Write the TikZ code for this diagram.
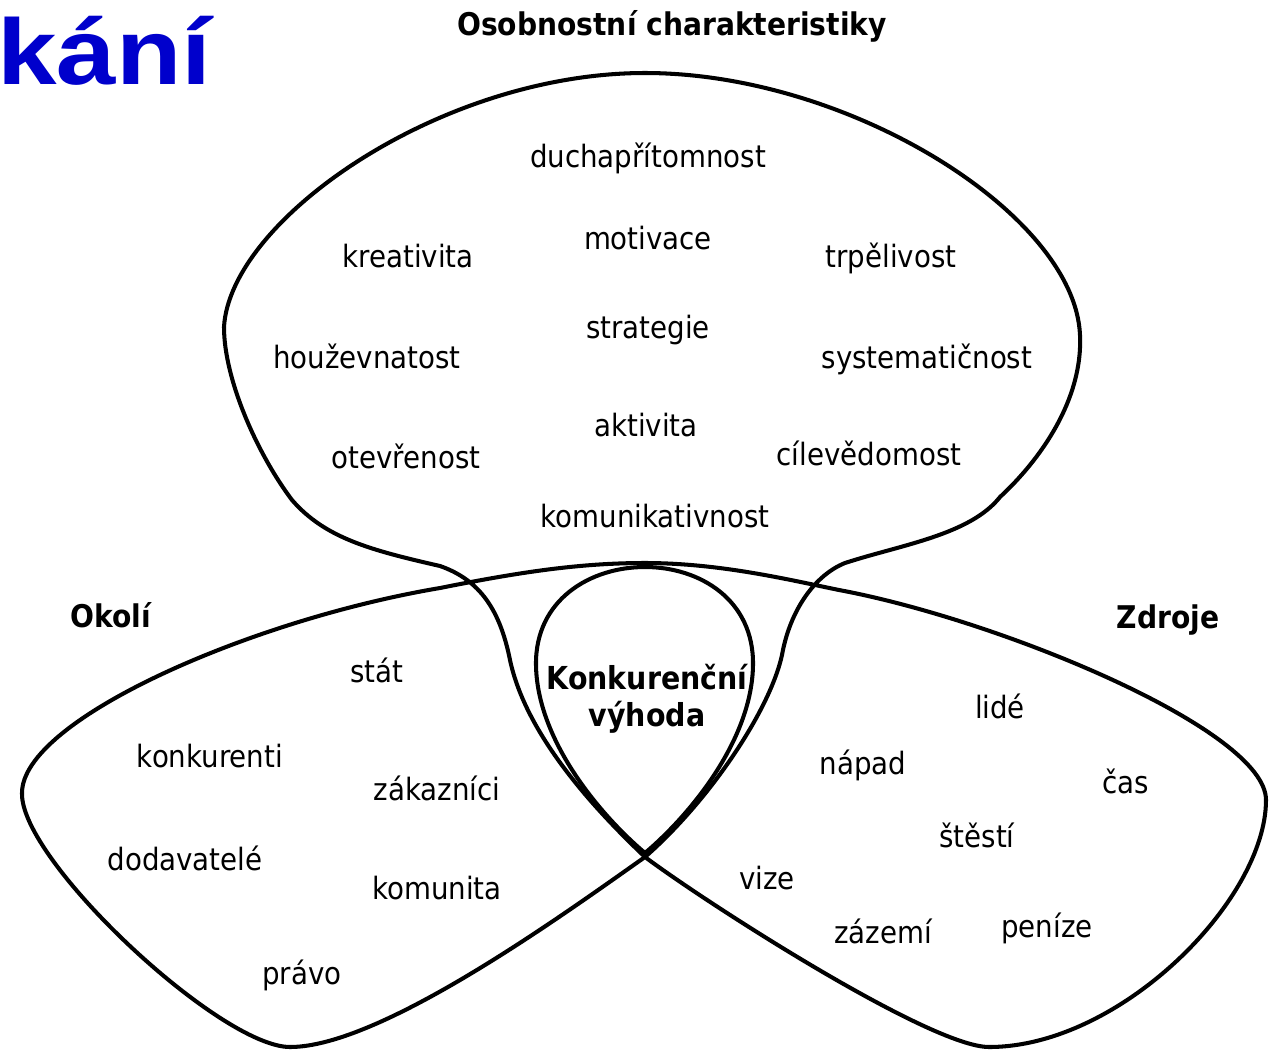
\documentclass[tikz,border=0pt]{standalone}
\usepackage{fontspec}
\setmainfont{DejaVu Sans}[FakeStretch=0.9]
\newfontfamily\titlefont{Liberation Sans}[FakeStretch=1.15]
\definecolor{titleblue}{RGB}{0,0,204}

\begin{document}
\begin{tikzpicture}[x=0.02cm, y=-0.02cm, % one unit = one pixel of the slide
  outline/.style={line width=2.3pt, line join=round},
  word/.style={font=\fontsize{17.5}{20}\selectfont, inner sep=0pt, text height=1.16em, text depth=0pt},
  heading/.style={word, font=\fontsize{17.8}{20}\selectfont\bfseries}]
\useasboundingbox (0,0) rectangle (1279,1049); % page size

% Title rest on the left
\node[anchor=base west, inner sep=0pt, text=titleblue, font=\titlefont\fontsize{53}{60}\selectfont\bfseries] (title) at (-3,84) {kání};

% The big outline: top lobe, then left lobe, then right lobe, in one stroke
\coordinate (cross) at (645,857); % where the lobes cross
\coordinate (topc) at (645,563); % top of the two lower lobes
\draw[outline] (cross)
  .. controls (585,800) and (525,730) .. (510,660) % left neck
  .. controls (500,610) and (480,580) .. (440,566)
  .. controls (370,550) and (325,538) .. (292,500)
  .. controls (258,455) and (224,380) .. (224,327) % left side
  .. controls (230,220) and (440,73) .. (645,73) % top
  .. controls (850,73) and (1075,215) .. (1080,335) % right side
  .. controls (1083,400) and (1040,460) .. (1000,497)
  .. controls (970,535) and (900,545) .. (845,563)
  .. controls (815,575) and (790,610) .. (782,655) % right neck
  .. controls (770,710) and (710,800) .. (cross)
  .. controls (560,917) and (380,1047) .. (290,1047) % left lobe bottom
  .. controls (220,1047) and (20,860) .. (22,793)
  .. controls (22,720) and (250,620) .. (440,588) % left lobe top
  .. controls (520,572) and (580,563) .. (topc)
  .. controls (720,563) and (790,580) .. (839,590) % right lobe top
  .. controls (1000,620) and (1266,730) .. (1266,800)
  .. controls (1266,900) and (1120,1047) .. (989,1047) % right lobe bottom
  .. controls (930,1047) and (705,902) .. (cross) -- cycle;

% Inner teardrop
\draw[outline] (645,853)
  .. controls (600,815) and (537,740) .. (536,665)
  .. controls (535,600) and (590,567) .. (645,567)
  .. controls (700,567) and (754,600) .. (753,665)
  .. controls (752,740) and (690,815) .. (645,853) -- cycle;

% Headings
\node[heading] (osobnost) at (672,25) {Osobnostní charakteristiky};
\node[heading] (okoli) at (111,617) {Okolí};
\node[heading] (zdroje) at (1168,618) {Zdroje};
\node[heading, align=center, font=\fontsize{18}{21}\selectfont\bfseries] (vyhoda) at (647,716) {Konkurenční\\výhoda};

% Personal traits
\node[word] (duchapritomnost) at (648,157) {duchapřítomnost};
\node[word] (kreativita) at (408,257) {kreativita};
\node[word] (motivace) at (648,239) {motivace};
\node[word] (trpelivost) at (891,257) {trpělivost};
\node[word] (houzevnatost) at (367,358) {houževnatost};
\node[word] (strategie) at (648,328) {strategie};
\node[word] (systematicnost) at (927,358) {systematičnost};
\node[word] (otevrenost) at (406,458) {otevřenost};
\node[word] (aktivita) at (646,426) {aktivita};
\node[word] (cilevedomost) at (869,455) {cílevědomost};
\node[word] (komunikativnost) at (655,517) {komunikativnost};

% Surroundings
\node[word] (stat) at (377,672) {stát};
\node[word] (konkurenti) at (210,757) {konkurenti};
\node[word] (zakaznici) at (437,790) {zákazníci};
\node[word] (dodavatele) at (185,860) {dodavatelé};
\node[word] (komunita) at (437,889) {komunita};
\node[word] (pravo) at (302,974) {právo};

% Resources
\node[word] (lide) at (1000,708) {lidé};
\node[word] (napad) at (863,764) {nápad};
\node[word] (cas) at (1126,783) {čas};
\node[word] (stesti) at (977,837) {štěstí};
\node[word] (vize) at (767,879) {vize};
\node[word] (zazemi) at (883,933) {zázemí};
\node[word] (penize) at (1047,927) {peníze};
\end{tikzpicture}
\end{document}
